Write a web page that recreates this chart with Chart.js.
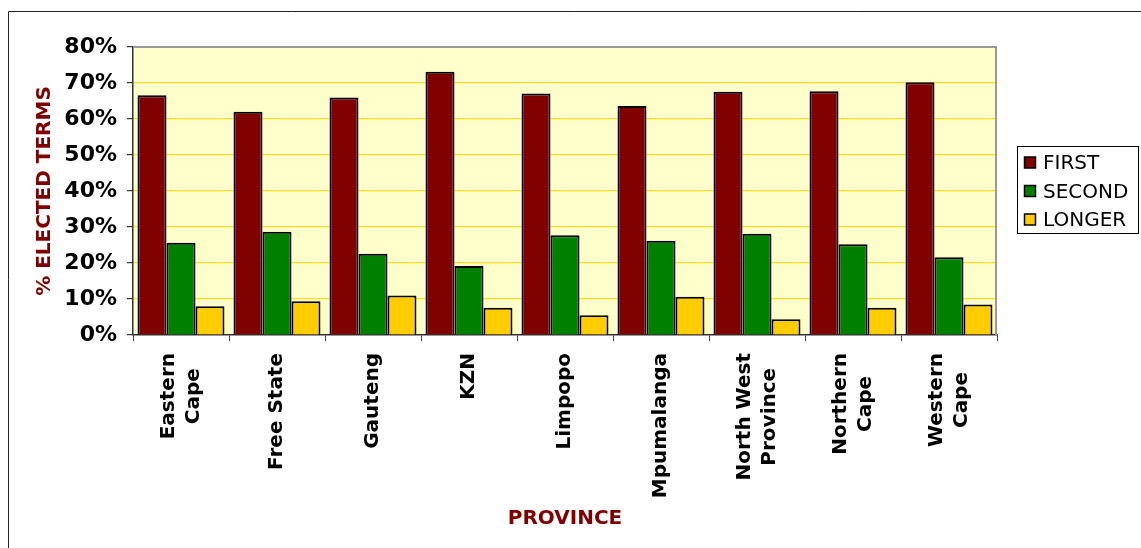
<!DOCTYPE html>
<html><head><meta charset="utf-8">
<script src="https://cdn.jsdelivr.net/npm/chart.js@4/dist/chart.umd.min.js"></script>
<style>html,body{margin:0;padding:0;background:#fff;}canvas{display:block}</style>
</head><body><canvas id="c" width="1141" height="548"></canvas>
<script>
const categories = [['Eastern','Cape'],['Free State'],['Gauteng'],['KZN'],['Limpopo'],['Mpumalanga'],['North West','Province'],['Northern','Cape'],['Western','Cape']];
const seriesNames = ['FIRST','SECOND','LONGER'];
const firstTerm = [66.6,62.0,66.0,73.1,67.1,63.6,67.6,67.7,70.2];
const secondTerm = [25.6,28.7,22.6,19.2,27.7,26.2,28.1,25.2,21.6];
const longerTerm = [8.0,9.4,11.0,7.6,5.5,10.6,4.4,7.6,8.5];
const seriesColors = ['#800000','#008000','#FFCC00'];
const yMin = 0, yMax = 80, yStep = 10;
const yTitle = '% ELECTED TERMS';
const xTitle = 'PROVINCE';

const FONT = "'DejaVu Sans', Verdana, sans-serif";
const gridColors = [];
for (let v = yMin; v <= yMax; v += yStep) {
  gridColors.push(v === yMin ? 'rgba(0,0,0,0)' : (v === yMax ? '#8c8c8c' : '#FFD92E'));
}

const decor = {
  id: 'decor',
  beforeDraw(chart) {
    const {ctx, chartArea: a} = chart;
    ctx.save();
    ctx.fillStyle = '#FFFFCC';
    ctx.fillRect(a.left, a.top, a.right - a.left, a.bottom - a.top);
    ctx.restore();
  },
  afterDraw(chart) {
    const {ctx, chartArea: a} = chart;
    ctx.save();
    // outer frame
    ctx.strokeStyle = '#222';
    ctx.lineWidth = 1;
    ctx.beginPath();
    ctx.moveTo(8.5, 548); ctx.lineTo(8.5, 11.5); ctx.lineTo(1141, 11.5);
    ctx.stroke();
    // right / top plot border
    ctx.strokeStyle = '#999';
    ctx.lineWidth = 2;
    ctx.beginPath();
    ctx.moveTo(a.left, a.top); ctx.lineTo(a.right - 1, a.top); ctx.lineTo(a.right - 1, a.bottom);
    ctx.stroke();
    ctx.lineWidth = 1;
    // x category labels
    const xs = chart.scales.x;
    ctx.fillStyle = '#000';
    ctx.font = "bold 20px " + FONT;
    ctx.textAlign = 'center';
    ctx.textBaseline = 'middle';
    const lh = 25;
    categories.forEach((lines, i) => {
      const px = xs.getPixelForTick(i);
      const maxW = Math.max(...lines.map(l => ctx.measureText(l).width));
      const cy = xs.top + 18 + maxW / 2;
      lines.forEach((ln, j) => {
        const lx = px + (j - (lines.length - 1) / 2) * lh;
        ctx.save();
        ctx.translate(lx, cy);
        ctx.rotate(-Math.PI / 2);
        ctx.fillText(ln, 0, 0);
        ctx.restore();
      });
    });
    // legend
    const bx = 1017.5, by = 146.5, bw = 121, bh = 87;
    ctx.fillStyle = '#fff';
    ctx.fillRect(bx, by, bw, bh);
    ctx.strokeStyle = '#000';
    ctx.strokeRect(bx, by, bw, bh);
    ctx.font = "20px " + FONT;
    ctx.textAlign = 'left';
    chart.data.datasets.forEach((ds, k) => {
      const cyL = 163 + k * 28.5;
      ctx.fillStyle = ds.backgroundColor;
      ctx.fillRect(1024.5, cyL - 6, 11, 11);
      ctx.strokeStyle = '#000';
      ctx.lineWidth = 1.5;
      ctx.strokeRect(1024.5, cyL - 6, 11, 11);
      ctx.fillStyle = '#000';
      ctx.fillText(ds.label, 1043, cyL + 1);
    });
    ctx.restore();
  }
};

new Chart(document.getElementById('c'), {
  type: 'bar',
  data: {
    labels: categories,
    datasets: [
      {label: seriesNames[0], data: firstTerm, backgroundColor: seriesColors[0]},
      {label: seriesNames[1], data: secondTerm, backgroundColor: seriesColors[1]},
      {label: seriesNames[2], data: longerTerm, backgroundColor: seriesColors[2]}
    ].map(d => Object.assign(d, {borderColor: '#000', borderWidth: 2, borderSkipped: 'bottom', categoryPercentage: 0.906, barPercentage: 1.0}))
  },
  options: {
    responsive: false,
    animation: false,
    layout: {padding: {left: 0, top: 47, right: 144, bottom: 0}},
    plugins: {legend: {display: false}, tooltip: {enabled: false}},
    scales: {
      x: {
        grid: {offset: true, drawOnChartArea: false, tickLength: 6, tickColor: '#404040'},
        border: {color: '#333', width: 1.5},
        ticks: {display: false},
        title: {display: true, text: xTitle, color: '#800000', font: {family: FONT, size: 20, weight: 'bold'}, padding: {top: 0, bottom: 17}},
        afterFit(s) { s.height = 548 - 335; }
      },
      y: {
        min: yMin, max: yMax,
        ticks: {stepSize: yStep, padding: 10, color: '#000', font: {family: FONT, size: 22, weight: 'bold'}, callback: v => v + '%'},
        grid: {tickLength: 6, tickColor: '#333', color: gridColors, lineWidth: 1.2},
        border: {color: '#333', width: 1.5},
        title: {display: true, text: yTitle, color: '#800000', font: {family: FONT, size: 20, weight: 'bold'}, padding: {top: 33, bottom: 0}},
        afterFit(s) { s.width = 133; }
      }
    }
  },
  plugins: [decor]
});
</script>
</body></html>
